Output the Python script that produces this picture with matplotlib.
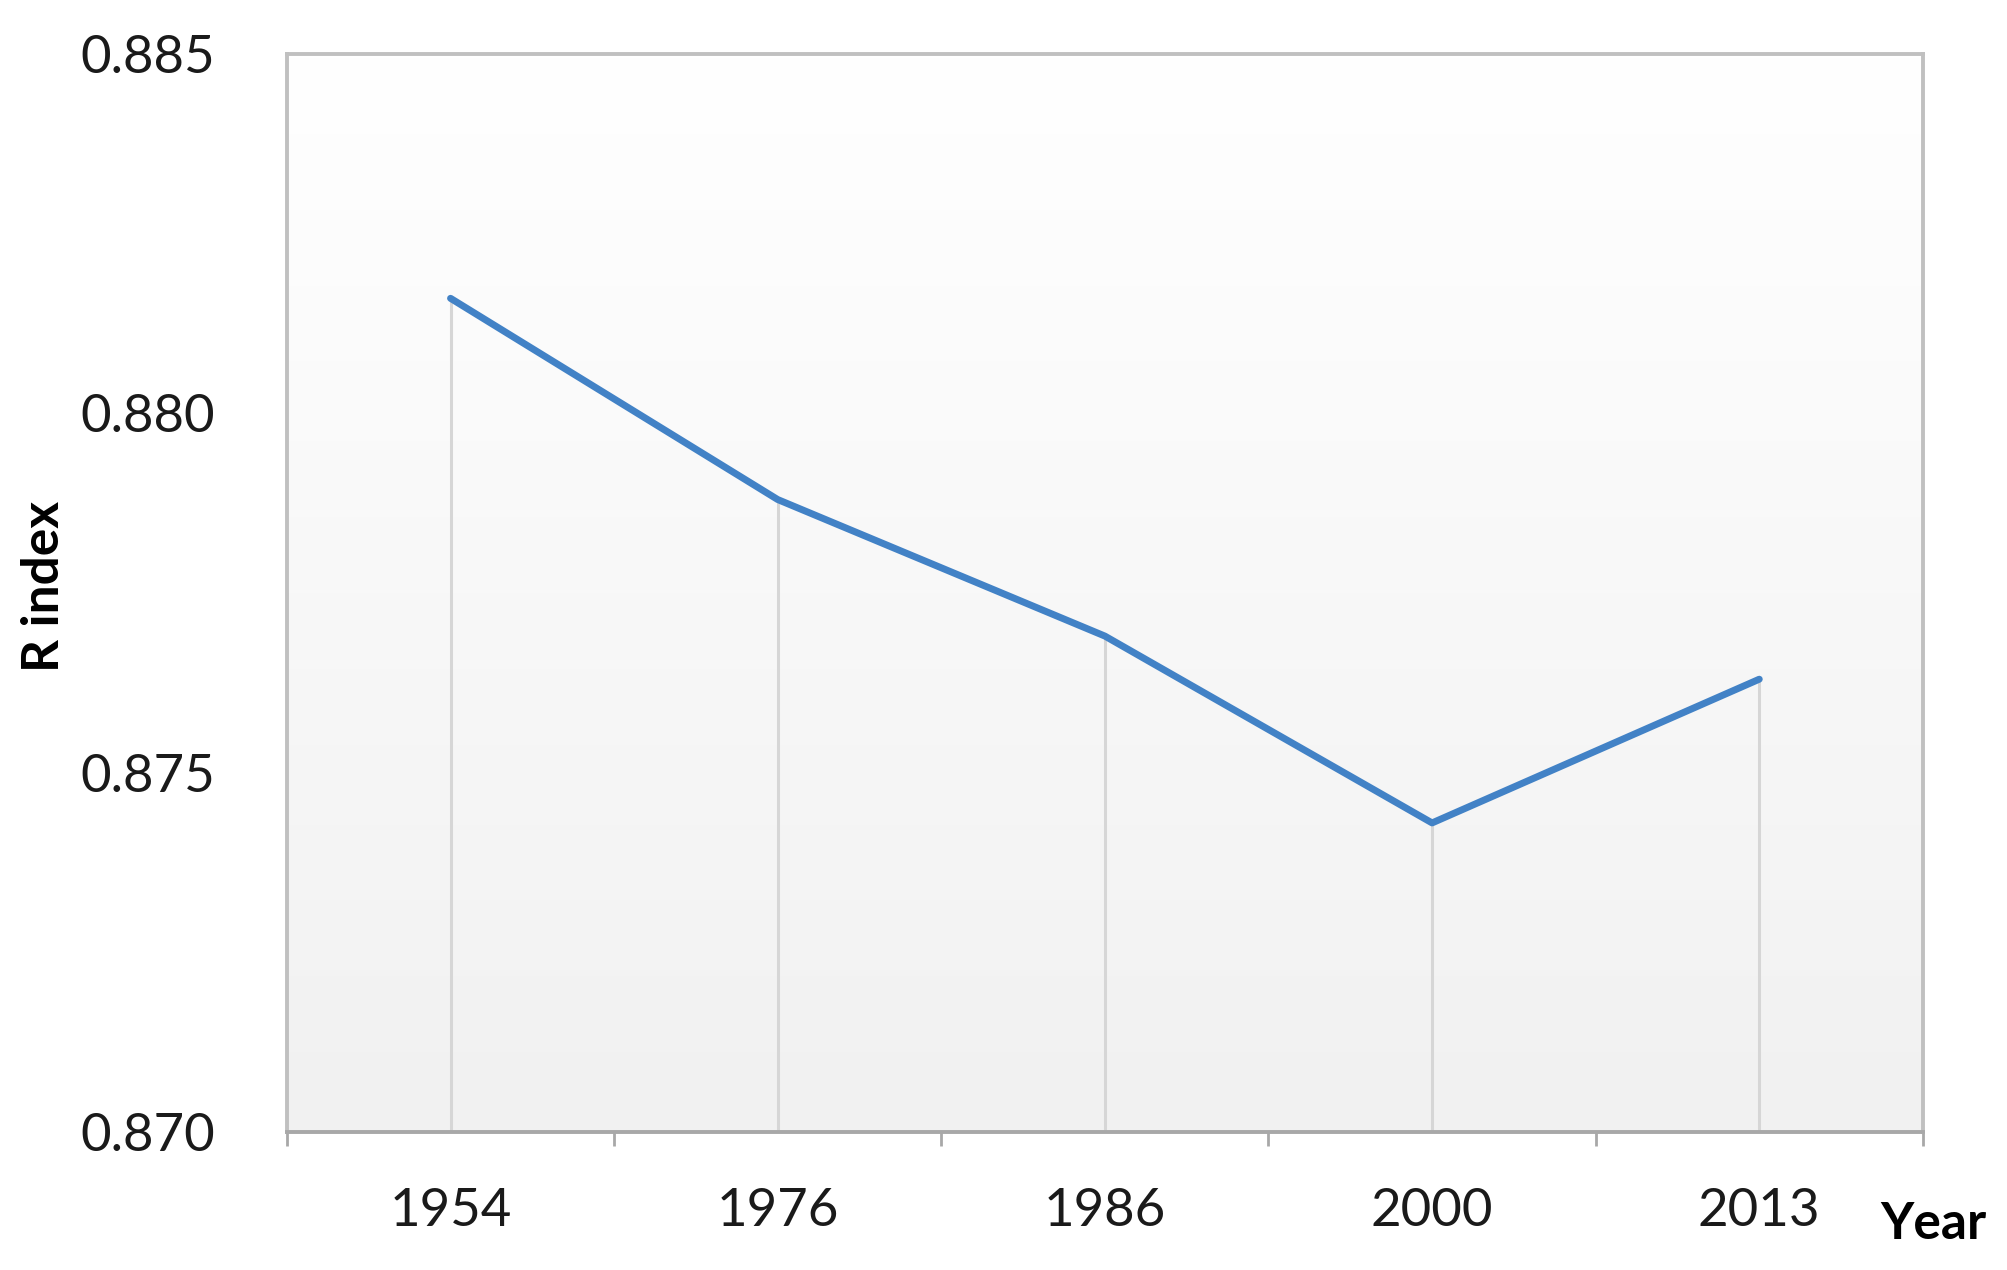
import numpy as np
import matplotlib.pyplot as plt
from matplotlib.colors import LinearSegmentedColormap

years = ["1954", "1976", "1986", "2000", "2013"]
r_index = [0.8816, 0.8788, 0.8769, 0.8743, 0.8763]
y_ticks = [0.870, 0.875, 0.880, 0.885]

plt.rcParams['font.family'] = ['Lato', 'DejaVu Sans']

fig = plt.figure(figsize=(20.08, 12.70), dpi=100)
ax = fig.add_axes([0.1429, 0.1087, 0.8147, 0.8488])

x = np.arange(len(years))
ax.set_xlim(-0.5, len(years) - 0.5)
ax.set_ylim(y_ticks[0], y_ticks[-1])

# white-to-grey vertical gradient behind the plot
bg = LinearSegmentedColormap.from_list('bg', ['#ffffff', '#f1f1f1'])
grad = np.linspace(0, 1, 256).reshape(-1, 1)
ax.imshow(grad, cmap=bg, aspect='auto',
          extent=[-0.5, len(years) - 0.5, y_ticks[0], y_ticks[-1]],
          origin='upper', zorder=0)

# drop lines from each point to the axis
ax.vlines(x, y_ticks[0], r_index, colors='#d6d6d6', linewidth=2.2, zorder=1)
ax.plot(x, r_index, color='#4282c6', linewidth=5.0, zorder=2,
        solid_joinstyle='round', solid_capstyle='round')

for s in ax.spines.values():
    s.set_color('#c0c0c0')
    s.set_linewidth(2.8)
ax.spines['bottom'].set_color('#a8a8a8')

ax.set_yticks(y_ticks)
ax.set_yticklabels([f"{v:.3f}" for v in y_ticks])
ax.tick_params(axis='y', length=0, pad=52, labelsize=38, labelcolor='#1a1a1a')

ax.set_xticks(np.arange(-0.5, len(years)), minor=False)
ax.set_xticklabels([])
ax.tick_params(axis='x', which='major', length=10, width=2, color='#a8a8a8',
               direction='out')
ax.set_xticks(x, minor=True)
ax.set_xticklabels(years, minor=True)
ax.tick_params(axis='x', which='minor', length=0, pad=40, labelsize=38,
               labelcolor='#1a1a1a')

fig.text(0.022, 0.538, "R index", rotation=90, ha='center', va='center',
         fontsize=37, fontweight='bold')
fig.text(0.963, 0.036, "Year", ha='center', va='center',
         fontsize=37, fontweight='bold')

fig.savefig("out.png", dpi=100)
